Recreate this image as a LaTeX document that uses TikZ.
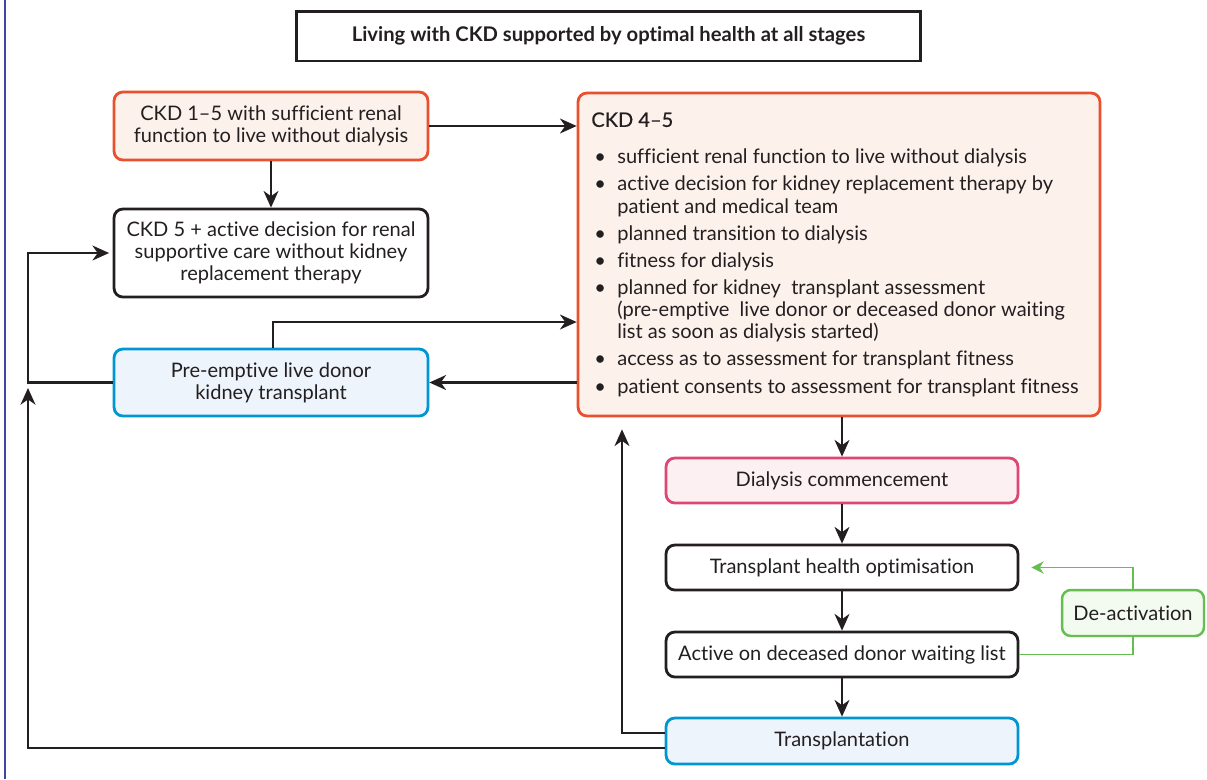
\documentclass[tikz,border=0pt]{standalone}
\usepackage{fontspec}
\setmainfont{Lato}[Ligatures=NoCommon]
\usetikzlibrary{arrows.meta,calc}
\definecolor{ink}{RGB}{35,31,32}
\definecolor{ckdorange}{RGB}{232,80,46}
\definecolor{ckdpeach}{RGB}{253,241,236}
\definecolor{ckdblue}{RGB}{0,150,210}
\definecolor{ckdbluefill}{RGB}{238,244,252}
\definecolor{ckdpink}{RGB}{222,70,115}
\definecolor{ckdpinkfill}{RGB}{253,240,243}
\definecolor{ckdgreen}{RGB}{100,190,80}
\definecolor{ckdgreenfill}{RGB}{243,250,240}
\definecolor{pageline}{RGB}{60,70,160}
\newcommand\bul{\makebox[0.52cm][l]{\hspace{0.06cm}\textbullet}\ignorespaces}
\newcommand\ind{\hspace*{0.52cm}\ignorespaces}
\begin{document}
\begin{tikzpicture}[x=0.02cm,y=-0.02cm,
  txt/.style={text=ink, font=\fontsize{11.4}{12.7}\selectfont, align=center},
  box/.style={txt, rectangle, rounded corners=5pt, line width=1.6pt, inner sep=0pt},
  orangebox/.style={box, draw=ckdorange, fill=ckdpeach},
  blackbox/.style={box, draw=ink, fill=white},
  bluebox/.style={box, draw=ckdblue, fill=ckdbluefill},
  pinkbox/.style={box, draw=ckdpink, fill=ckdpinkfill},
  greenbox/.style={box, draw=ckdgreen, fill=ckdgreenfill, line width=1.4pt},
  arr/.style={draw=ink, line width=1.2pt, -{Stealth[length=9.5pt,width=8.5pt,inset=3pt]}},
  grn/.style={draw=ckdgreen, line width=1.1pt},
  grnarr/.style={grn, -{Stealth[length=7pt,width=7pt,inset=2.2pt]}}]
\useasboundingbox (0,0) rectangle (1207,779);
\draw[pageline, line width=0.6pt] (5,0) -- (5,779);

\node[txt, draw=ink, line width=1.7pt, minimum width=12.5cm, minimum height=1.0cm, inner sep=0pt, font=\fontsize{11.5}{12.7}\selectfont\bfseries] (title) at (608.5,36) {Living with CKD supported by optimal health at all stages};

\node[orangebox, minimum width=6.28cm, minimum height=1.36cm] (A) at (271,126) {CKD 1--5 with sufficient renal\\function to live without dialysis};
\node[blackbox, minimum width=6.28cm, minimum height=1.76cm] (B) at (271,253) {CKD 5 + active decision for renal\\supportive care without kidney\\replacement therapy};
\node[bluebox, minimum width=6.28cm, minimum height=1.34cm] (C) at (271,382.5) {Pre-emptive live donor\\kidney transplant};
\node[orangebox, minimum width=10.44cm, minimum height=6.46cm] (D) at (839,254.5) {};
\node[txt, anchor=north west, inner sep=0pt, align=left] (dtxt) at (591,112) {%
{\addfontfeature{FakeBold=0.5}CKD 4--5}\\[8.3pt]
\bul sufficient renal function to live without dialysis\\[2.7pt]
\bul active decision for kidney replacement therapy by\\
\ind patient and medical team\\[2.7pt]
\bul planned transition to dialysis\\[2.7pt]
\bul fitness for dialysis\\[2.7pt]
\bul planned for kidney\ \ transplant assessment\\
\ind (pre-emptive\ \ live donor or deceased donor waiting\\
\ind list as soon as dialysis started)\\[2.7pt]
\bul access as to assessment for transplant fitness\\[2.7pt]
\bul patient consents to assessment for transplant fitness};
\node[pinkbox, minimum width=7.04cm, minimum height=0.90cm] (E) at (842,480.5) {Dialysis commencement};
\node[blackbox, minimum width=7.04cm, minimum height=0.90cm] (F) at (842,567.5) {Transplant health optimisation};
\node[blackbox, minimum width=7.04cm, minimum height=0.90cm] (G) at (842,654.5) {Active on deceased donor waiting list};
\node[bluebox, minimum width=7.04cm, minimum height=0.92cm] (H) at (842,741) {Transplantation};
\node[greenbox, minimum width=2.84cm, minimum height=0.92cm] (I) at (1133,613) {De-activation};

\coordinate (L) at (28,0);
\coordinate (y322) at (0,322);
\coordinate (xup) at (622,0);

\draw[arr] (A.east) -- (A.east -| D.west);
\draw[arr] (A.south) -- (B.north);
\draw[arr] ([xshift=0.04cm]C.north) |- (D.west |- y322);
\draw[arr] (D.west |- C.east) -- (C.east);
\draw[arr, shorten >=2pt] (C.west) -| (L |- B.west) -- (B.west);
\draw[arr, shorten >=0.11cm] ([yshift=-0.14cm]H.west) -| (L |- C.west);
\draw[arr, shorten >=0.24cm] ([yshift=0.16cm]H.west) -| (xup |- D.south);
\draw[arr] (E.north |- D.south) -- (E.north);
\draw[arr] (E.south) -- (F.north);
\draw[arr] (F.south) -- (G.north);
\draw[arr] (G.south) -- (H.north);
\draw[grn] (G.east) -| (I.south);
\draw[grnarr, shorten >=0.24cm] (I.north) |- (F.east);
\end{tikzpicture}
\end{document}
